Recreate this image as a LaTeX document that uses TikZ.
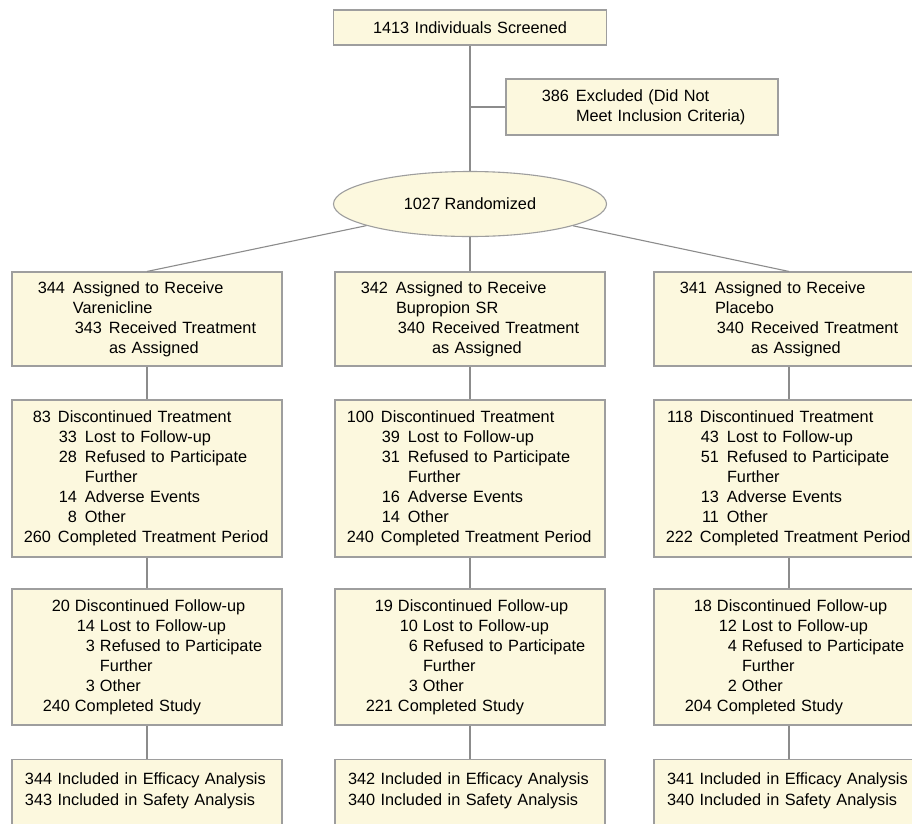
\documentclass[tikz,border=0pt]{standalone}
\usepackage{fontspec}
\setmainfont{Liberation Sans}
\usetikzlibrary{shapes.geometric}
\definecolor{boxfill}{RGB}{252,248,222}
\definecolor{boxline}{RGB}{158,158,158}
\definecolor{connline}{RGB}{140,140,140}
\newcommand{\ent}[4][8pt]{\hspace*{#2}\makebox[0pt][r]{#3}\hspace{#1}#4}
\tikzset{
	box/.style={draw=boxline, fill=boxfill, line width=1.1pt, inner xsep=0pt, inner ysep=0pt, align=left, text width=270pt, font=\fontsize{16.3}{20}\selectfont},
	conn/.style={draw=connline, line width=1.1pt}
}
\begin{document}
\begin{tikzpicture}[x=1pt, y=-1pt]
			\useasboundingbox (0,0) rectangle (912,823);
			\fill[white] (0,0) rectangle (912,823);
			\clip (0,0) rectangle (912,823);
			
			\node[box, text width=273pt, minimum height=35pt, align=center] (screen) at (470,27.5) {1413 Individuals Screened};
			\node[box, text width=272pt, minimum height=56pt] (excl) at (642,107) {\ent[7pt]{63pt}{386}{Excluded (Did Not}\\ \hspace*{70pt}Meet Inclusion Criteria)};
			\node[box, ellipse, text width=, align=center, inner sep=0pt, minimum width=273pt, minimum height=65pt] (rand) at (470,204) {1027 Randomized};
			
			\node[box, minimum height=94pt] (varA) at (147,319) {\ent{53pt}{344}{Assigned to Receive}\\ \hspace*{61pt}Varenicline\\ \ent[7pt]{90pt}{343}{Received Treatment}\\ \hspace*{97pt}as Assigned};
			\node[box, minimum height=94pt] (bupA) at (470,319) {\ent{53pt}{342}{Assigned to Receive}\\ \hspace*{61pt}Bupropion SR\\ \ent[7pt]{90pt}{340}{Received Treatment}\\ \hspace*{97pt}as Assigned};
			\node[box, minimum height=94pt] (plaA) at (789,319) {\ent{53pt}{341}{Assigned to Receive}\\ \hspace*{61pt}Placebo\\ \ent[7pt]{90pt}{340}{Received Treatment}\\ \hspace*{97pt}as Assigned};
			
			\node[box, minimum height=157pt] (varB) at (147,478.5) {\ent[7pt]{39pt}{83}{Discontinued Treatment}\\ \ent{65pt}{33}{Lost to Follow-up}\\ \ent{65pt}{28}{Refused to Participate}\\ \hspace*{73pt}Further\\ \ent{65pt}{14}{Adverse Events}\\ \ent{65pt}{8}{Other}\\ \ent[7pt]{39pt}{260}{Completed Treatment Period}};
			\node[box, minimum height=157pt] (bupB) at (470,478.5) {\ent[7pt]{39pt}{100}{Discontinued Treatment}\\ \ent{65pt}{39}{Lost to Follow-up}\\ \ent{65pt}{31}{Refused to Participate}\\ \hspace*{73pt}Further\\ \ent{65pt}{16}{Adverse Events}\\ \ent{65pt}{14}{Other}\\ \ent[7pt]{39pt}{240}{Completed Treatment Period}};
			\node[box, minimum height=157pt] (plaB) at (789,478.5) {\ent[7pt]{39pt}{118}{Discontinued Treatment}\\ \ent{65pt}{43}{Lost to Follow-up}\\ \ent{65pt}{51}{Refused to Participate}\\ \hspace*{73pt}Further\\ \ent{65pt}{13}{Adverse Events}\\ \ent{65pt}{11}{Other}\\ \ent[7pt]{39pt}{222}{Completed Treatment Period}};
			
			\node[box, minimum height=136pt] (varC) at (147,657) {\ent[5pt]{58pt}{20}{Discontinued Follow-up}\\ \ent[5pt]{83pt}{14}{Lost to Follow-up}\\ \ent[5pt]{83pt}{3}{Refused to Participate}\\ \hspace*{88pt}Further\\ \ent[5pt]{83pt}{3}{Other}\\ \ent[5pt]{58pt}{240}{Completed Study}};
			\node[box, minimum height=136pt] (bupC) at (470,657) {\ent[5pt]{58pt}{19}{Discontinued Follow-up}\\ \ent[5pt]{83pt}{10}{Lost to Follow-up}\\ \ent[5pt]{83pt}{6}{Refused to Participate}\\ \hspace*{88pt}Further\\ \ent[5pt]{83pt}{3}{Other}\\ \ent[5pt]{58pt}{221}{Completed Study}};
			\node[box, minimum height=136pt] (plaC) at (789,657) {\ent[5pt]{58pt}{18}{Discontinued Follow-up}\\ \ent[5pt]{83pt}{12}{Lost to Follow-up}\\ \ent[5pt]{83pt}{4}{Refused to Participate}\\ \hspace*{88pt}Further\\ \ent[5pt]{83pt}{2}{Other}\\ \ent[5pt]{58pt}{204}{Completed Study}};
			
			\node[box, minimum height=80pt, anchor=north] (varD) at (147,759) {\hspace*{13pt}344 Included in Efficacy Analysis\\[1pt] \hspace*{13pt}343 Included in Safety Analysis\\[1pt] \mbox{}};
			\node[box, minimum height=80pt, anchor=north] (bupD) at (470,759) {\hspace*{13pt}342 Included in Efficacy Analysis\\[1pt] \hspace*{13pt}340 Included in Safety Analysis\\[1pt] \mbox{}};
			\node[box, minimum height=80pt, anchor=north] (plaD) at (789,759) {\hspace*{13pt}341 Included in Efficacy Analysis\\[1pt] \hspace*{13pt}340 Included in Safety Analysis\\[1pt] \mbox{}};
			
			\draw[conn] (screen)--(rand);
			\draw[conn] (excl.west)--(excl.west -| screen);
			\draw[conn] (rand)--(varA.north);
			\draw[conn] (rand)--(bupA.north);
			\draw[conn] (rand)--(plaA.north);
			\foreach \arm in {var,bup,pla} {
				\draw[conn] (\arm A)--(\arm B);
				\draw[conn] (\arm B)--(\arm C);
				\draw[conn] (\arm C)--(\arm D);
			}
			\end{tikzpicture}
\end{document}
